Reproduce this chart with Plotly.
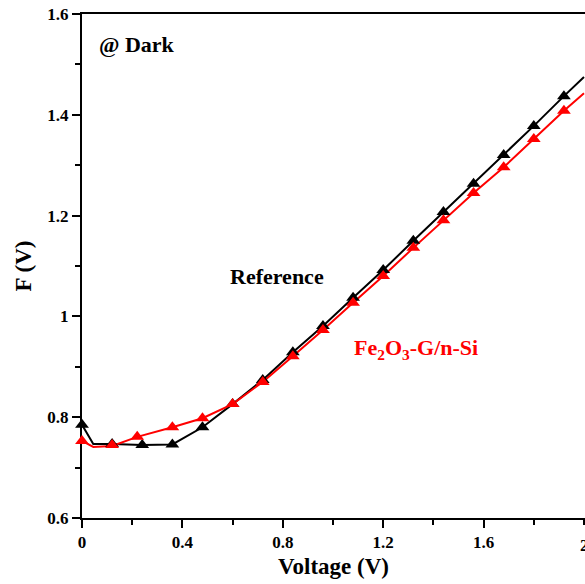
import plotly.graph_objects as go

# Marker data
ref_x = [0.0, 0.12, 0.24, 0.36, 0.48, 0.60, 0.72, 0.84, 0.96, 1.08, 1.20, 1.32, 1.44, 1.56, 1.68, 1.80, 1.92]
ref_y = [0.785, 0.747, 0.745, 0.746, 0.780, 0.826, 0.874, 0.929, 0.981, 1.037, 1.092, 1.150, 1.207, 1.263, 1.320, 1.378, 1.437]

fe_x = [0.0, 0.12, 0.22, 0.36, 0.48, 0.60, 0.72, 0.84, 0.96, 1.08, 1.20, 1.32, 1.44, 1.56, 1.68, 1.80, 1.92]
fe_y = [0.753, 0.745, 0.761, 0.780, 0.798, 0.826, 0.870, 0.921, 0.973, 1.027, 1.080, 1.136, 1.191, 1.245, 1.296, 1.352, 1.408]

# Line paths (markers plus extra points)
ref_line_x = [0.0, 0.045, 0.12, 0.24, 0.36, 0.48, 0.60, 0.72, 0.84, 0.96, 1.08, 1.20, 1.32, 1.44, 1.56, 1.68, 1.80, 1.92, 2.0]
ref_line_y = [0.785, 0.747, 0.747, 0.745, 0.746, 0.780, 0.826, 0.874, 0.929, 0.981, 1.037, 1.092, 1.150, 1.207, 1.263, 1.320, 1.378, 1.437, 1.475]
fe_line_x = [0.0, 0.045, 0.12, 0.22, 0.36, 0.48, 0.60, 0.72, 0.84, 0.96, 1.08, 1.20, 1.32, 1.44, 1.56, 1.68, 1.80, 1.92, 2.0]
fe_line_y = [0.753, 0.741, 0.743, 0.761, 0.780, 0.798, 0.826, 0.870, 0.921, 0.973, 1.027, 1.080, 1.136, 1.191, 1.245, 1.296, 1.352, 1.408, 1.443]

x_ticks = [0, 0.4, 0.8, 1.2, 1.6]
x_ticktext = ["0", "0.4", "0.8", "1.2", "1.6"]
x_edge_tick = 2.0
x_edge_text = "2"
y_ticks = [0.6, 0.8, 1.0, 1.2, 1.4, 1.6]
y_ticktext = ["0.6", "0.8", "1", "1.2", "1.4", "1.6"]

FONT = "Liberation Serif"

fig = go.Figure()
fig.add_trace(go.Scatter(x=ref_line_x, y=ref_line_y, mode="lines",
                         line=dict(color="black", width=2), cliponaxis=False, showlegend=False))
fig.add_trace(go.Scatter(x=fe_line_x, y=fe_line_y, mode="lines",
                         line=dict(color="red", width=2), cliponaxis=False, showlegend=False))
fig.add_trace(go.Scatter(x=ref_x, y=ref_y, mode="markers",
                         marker=dict(symbol="triangle-up", size=12, color="black"),
                         cliponaxis=False, showlegend=False))
fig.add_trace(go.Scatter(x=fe_x, y=fe_y, mode="markers",
                         marker=dict(symbol="triangle-up", size=12, color="red"),
                         cliponaxis=False, showlegend=False))

axis_common = dict(
    showgrid=False, zeroline=False, showline=True, linecolor="black", linewidth=2,
    ticks="outside", ticklen=8, tickwidth=2, tickcolor="black",
    tickfont=dict(family=FONT, size=17, color="black", weight="bold"),
    layer="below traces",
)

fig.update_xaxes(range=[0, 2.004], tickvals=x_ticks, ticktext=x_ticktext, mirror=True,
                 minor=dict(ticks="outside", ticklen=5, tickwidth=2, tickcolor="black", dtick=0.2, tick0=0),
                 title=dict(text="Voltage (V)", font=dict(family=FONT, size=23, color="black", weight="bold"), standoff=6),
                 **axis_common)
fig.update_yaxes(range=[0.6, 1.6], tickvals=y_ticks, ticktext=y_ticktext, mirror=False,
                 minor=dict(ticks="outside", ticklen=5, tickwidth=2, tickcolor="black", dtick=0.1, tick0=0.6),
                 title=dict(text="F (V)", font=dict(family=FONT, size=23, color="black", weight="bold"), standoff=9),
                 **axis_common)

# tick label at the cut-off right edge (plotly drops it because it overflows)
fig.add_annotation(x=x_edge_tick, y=0, xref="x", yref="paper", text=x_edge_text, showarrow=False,
                   xanchor="center", yanchor="middle", yshift=-27,
                   font=dict(family=FONT, size=17, color="black", weight="bold"))

fig.add_annotation(x=0.06, y=1.540, xref="x", yref="y", text="@ Dark", showarrow=False,
                   xanchor="left", font=dict(family=FONT, size=22, color="black", weight="bold"))
fig.add_annotation(x=0.58, y=1.080, xref="x", yref="y", text="Reference", showarrow=False,
                   xanchor="left", font=dict(family=FONT, size=22, color="black", weight="bold"))
fig.add_annotation(x=1.074, y=0.935, xref="x", yref="y", text="Fe<sub>2</sub>O<sub>3</sub>-G/n-Si", showarrow=False,
                   xanchor="left", font=dict(family=FONT, size=22, color="red", weight="bold"))

fig.update_layout(
    width=585, height=584,
    margin=dict(l=82, r=0, t=14, b=66),
    paper_bgcolor="white", plot_bgcolor="white",
)

# remove the default page margin so the figure fills the window exactly
fig.write_html("out.html", config={"displayModeBar": False},
               post_script="document.body.style.margin='0';document.body.style.overflow='hidden';")
